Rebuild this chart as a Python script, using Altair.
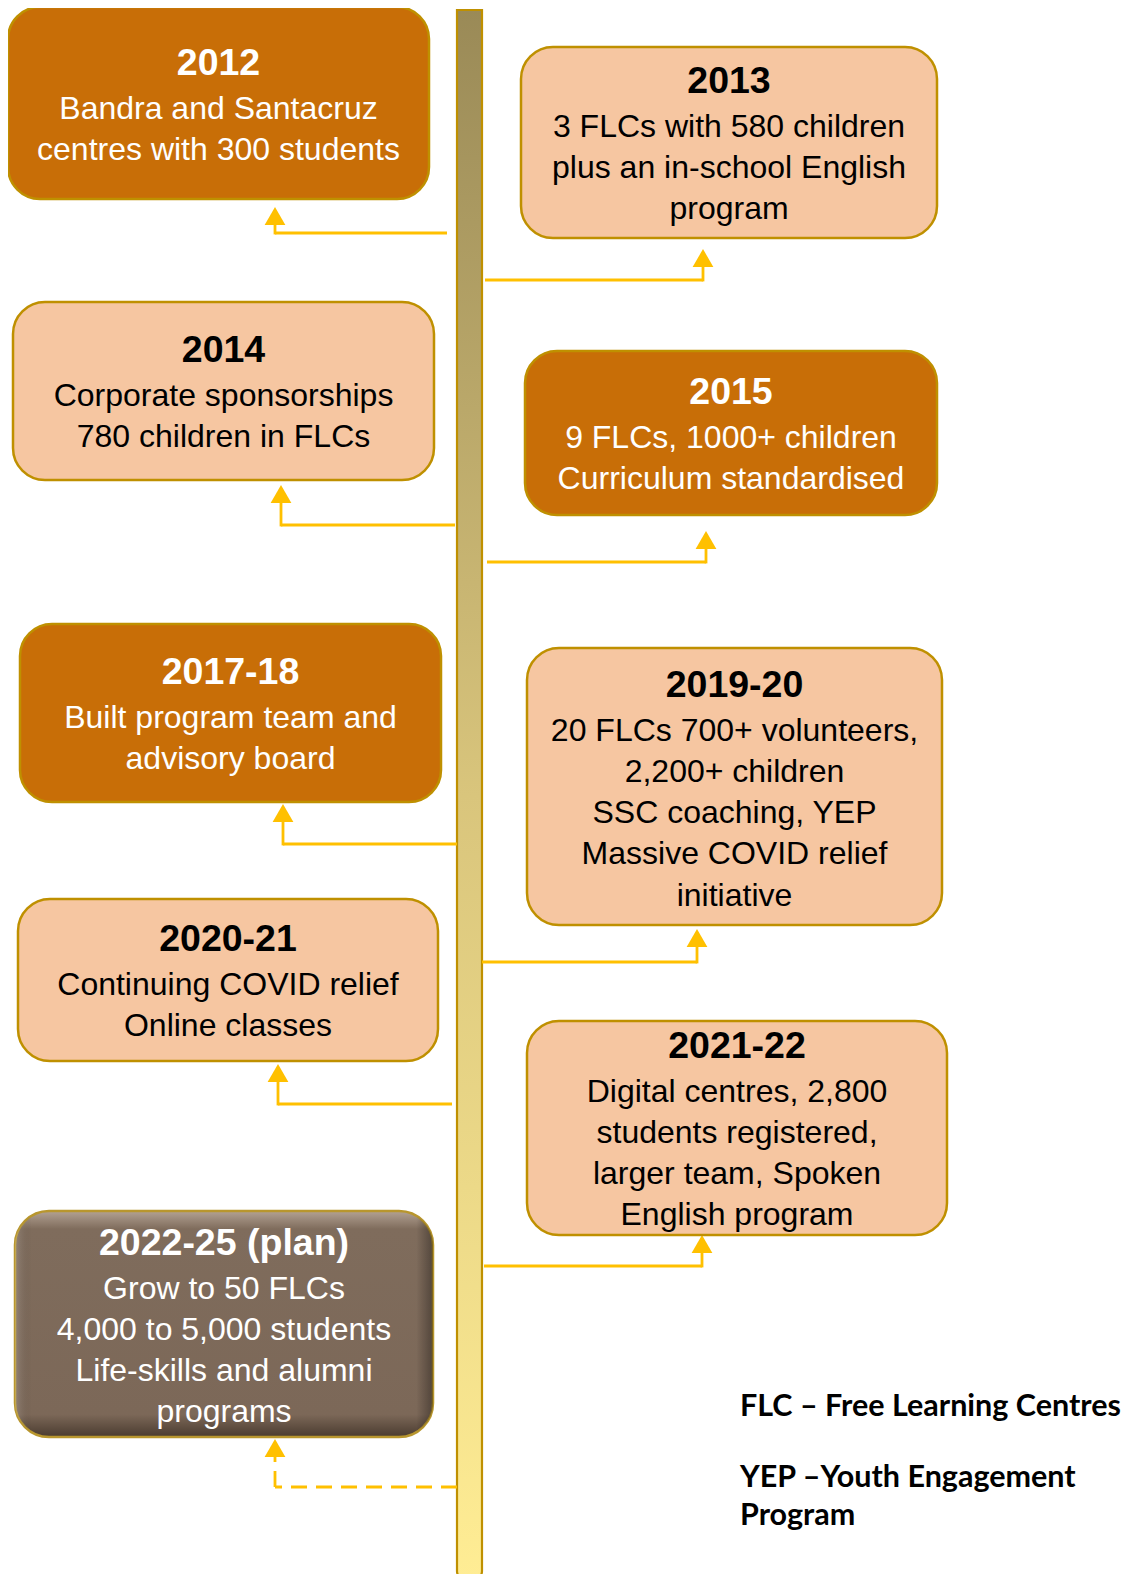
import altair as alt
import pandas as pd

# ---- content ----
years = ["2012", "2013", "2014", "2015", "2017-18", "2019-20", "2020-21", "2021-22", "2022-25 (plan)"]
descriptions = [
    ["Bandra and Santacruz", "centres with 300 students"],
    ["3 FLCs with 580 children", "plus an in-school English", "program"],
    ["Corporate sponsorships", "780 children in FLCs"],
    ["9 FLCs, 1000+ children", "Curriculum standardised"],
    ["Built program team and", "advisory board"],
    ["20 FLCs 700+ volunteers,", "2,200+ children", "SSC coaching, YEP", "Massive COVID relief", "initiative"],
    ["Continuing COVID relief", "Online classes"],
    ["Digital centres, 2,800", "students registered,", "larger team, Spoken", "English program"],
    ["Grow to 50 FLCs", "4,000 to 5,000 students", "Life-skills and alumni", "programs"],
]
styles = ["milestone", "step", "step", "milestone", "milestone", "step", "step", "step", "plan"]
footnotes = ["FLC \u2013 Free Learning Centres", "YEP \u2013Youth Engagement", "Program"]

# ---- layout (page pixels) ----
box_x0 = [8, 521, 13, 525, 20, 527, 18, 527, 15]
box_x1 = [429, 937, 434, 937, 441, 942, 438, 947, 433]
box_y0 = [7, 47, 302, 351, 624, 648, 899, 1021, 1211]
box_y1 = [199, 238, 480, 515, 802, 925, 1061, 1235, 1437]
year_y = [64, 82, 351, 393, 673, 686, 940, 1047, 1244]
conn_y = [233, 280, 525, 562, 844, 962, 1104, 1266, 1487]
conn_bar_x = [447, 485, 455, 487, 457, 482, 452, 484, 457]
conn_arrow_x = [275, 703, 281, 706, 283, 697, 278, 702, 275]
arrow_tip = [208, 250, 486, 532, 805, 930, 1065, 1236, 1440]
foot_y = [1407, 1478, 1516]
bar_x = [457, 482]
bar_y = [10, 1580]
YEAR_GAP = 44.5
LINE_GAP = 41.3

fill_of = {"milestone": "#C86E07", "step": "#F6C6A1", "plan": "#7E6A5A"}
ink_of = {"milestone": "#FFFFFF", "step": "#000000", "plan": "#FFFFFF"}

boxes = pd.DataFrame({
    "year": years, "style": styles,
    "x0": box_x0, "x1": box_x1, "y0": box_y0, "y1": box_y1,
})
boxes["fill"] = boxes["style"].map(fill_of)

rows = []
for i, yr in enumerate(years):
    cx = (box_x0[i] + box_x1[i]) / 2
    ink = ink_of[styles[i]]
    rows.append({"x": cx, "y": year_y[i], "text": yr, "ink": ink, "kind": "year"})
    for j, ln in enumerate(descriptions[i]):
        rows.append({"x": cx, "y": year_y[i] + YEAR_GAP + j * LINE_GAP, "text": ln, "ink": ink, "kind": "body"})
texts = pd.DataFrame(rows)

conns = pd.DataFrame({
    "xb": conn_bar_x, "xa": conn_arrow_x, "y": conn_y, "tip": arrow_tip,
    "dashed": [s == "plan" for s in styles],
})
conns["tip_line"] = conns["tip"] + 14
conns["tip_mark"] = conns["tip"] + 8

bar = pd.DataFrame({"x0": [bar_x[0]], "x1": [bar_x[1]], "y0": [bar_y[0]], "y1": [bar_y[1]]})
feet = pd.DataFrame({"x": [740] * 3, "y": foot_y, "text": footnotes})

W, H = 1115, 1566
xs = alt.Scale(domain=[8, 8 + W], nice=False, zero=False)
ys = alt.Scale(domain=[8, 8 + H], nice=False, zero=False, reverse=True)

def X(f):
    return alt.X(f, type="quantitative", scale=xs, axis=None)

def Y(f):
    return alt.Y(f, type="quantitative", scale=ys, axis=None)

GOLD = "#FFC000"
EDGE = "#BF9000"

bar_layer = alt.Chart(bar).mark_rect(
    fill=alt.Gradient(gradient="linear", x1=0, x2=0, y1=0, y2=1,
                      stops=[alt.GradientStop(offset=0, color="#9A8A57"),
                             alt.GradientStop(offset=0.5, color="#D9C57C"),
                             alt.GradientStop(offset=1, color="#FFED94")]),
    stroke=EDGE, strokeWidth=2.2, cornerRadiusBottomLeft=9, cornerRadiusBottomRight=9,
).encode(x=X("x0"), x2="x1", y=Y("y0"), y2="y1")

flat_boxes = alt.Chart(boxes).transform_filter("datum.style != 'plan'").mark_rect(
    cornerRadius=32, stroke=EDGE, strokeWidth=2.5,
).encode(x=X("x0"), x2="x1", y=Y("y0"), y2="y1", fill=alt.Fill("fill:N", scale=None))

plan_base = alt.Chart(boxes).transform_filter("datum.style == 'plan'")
plan_box = plan_base.mark_rect(
    cornerRadius=34, stroke="#B8962E", strokeWidth=2.5,
    fill=alt.Gradient(gradient="linear", x1=0, x2=0, y1=0, y2=1,
                      stops=[alt.GradientStop(offset=0, color="#B3A293"),
                             alt.GradientStop(offset=0.08, color="#7F6C5C"),
                             alt.GradientStop(offset=0.9, color="#7C6858"),
                             alt.GradientStop(offset=1, color="#4A3B2F")]),
).encode(x=X("x0"), x2="x1", y=Y("y0"), y2="y1")
plan_shade = plan_base.mark_rect(
    cornerRadius=34,
    fill=alt.Gradient(gradient="linear", x1=0, x2=1, y1=0, y2=0,
                      stops=[alt.GradientStop(offset=0, color="rgba(255,255,255,0.18)"),
                             alt.GradientStop(offset=0.04, color="rgba(0,0,0,0)"),
                             alt.GradientStop(offset=0.96, color="rgba(0,0,0,0)"),
                             alt.GradientStop(offset=1, color="rgba(0,0,0,0.35)")]),
).encode(x=X("x0"), x2="x1", y=Y("y0"), y2="y1")

solid = alt.Chart(conns).transform_filter("!datum.dashed")
dashed = alt.Chart(conns).transform_filter("datum.dashed")
h_solid = solid.mark_rule(color=GOLD, strokeWidth=2.8).encode(x=X("xb"), x2="xa", y=Y("y"))
v_solid = solid.mark_rule(color=GOLD, strokeWidth=2.8, strokeCap="square").encode(x=X("xa"), y=Y("y"), y2="tip_line")
h_dash = dashed.mark_rule(color=GOLD, strokeWidth=2.8, strokeDash=[16, 9]).encode(x=X("xb"), x2="xa", y=Y("y"))
v_dash = dashed.mark_rule(color=GOLD, strokeWidth=2.8, strokeDash=[16, 9]).encode(x=X("xa"), y=Y("y"), y2="tip_line")
arrows = alt.Chart(conns).mark_point(shape="triangle-up", filled=True, color=GOLD, size=430, opacity=1).encode(
    x=X("xa"), y=Y("tip_mark"))

year_text = alt.Chart(texts).transform_filter("datum.kind == 'year'").mark_text(
    font="Liberation Sans", fontSize=37.5, fontWeight="bold", align="center", baseline="middle",
).encode(x=X("x"), y=Y("y"), text="text:N", color=alt.Color("ink:N", scale=None))
body_text = alt.Chart(texts).transform_filter("datum.kind == 'body'").mark_text(
    font="Liberation Sans", fontSize=32, align="center", baseline="middle",
).encode(x=X("x"), y=Y("y"), text="text:N", color=alt.Color("ink:N", scale=None))

foot_text = alt.Chart(feet).mark_text(
    font="Lato", fontSize=30.5, fontWeight="bold", align="left", baseline="middle", color="#000000",
).encode(x=X("x"), y=Y("y"), text="text:N")

chart = alt.layer(
    bar_layer, h_solid, v_solid, h_dash, v_dash, arrows,
    flat_boxes, plan_box, plan_shade, year_text, body_text, foot_text,
).properties(
    width=W, height=H, autosize=alt.AutoSizeParams(type="none"), padding=0,
).configure_view(strokeWidth=0)

chart.save("out.html", embed_options={"renderer": "svg", "actions": False})
